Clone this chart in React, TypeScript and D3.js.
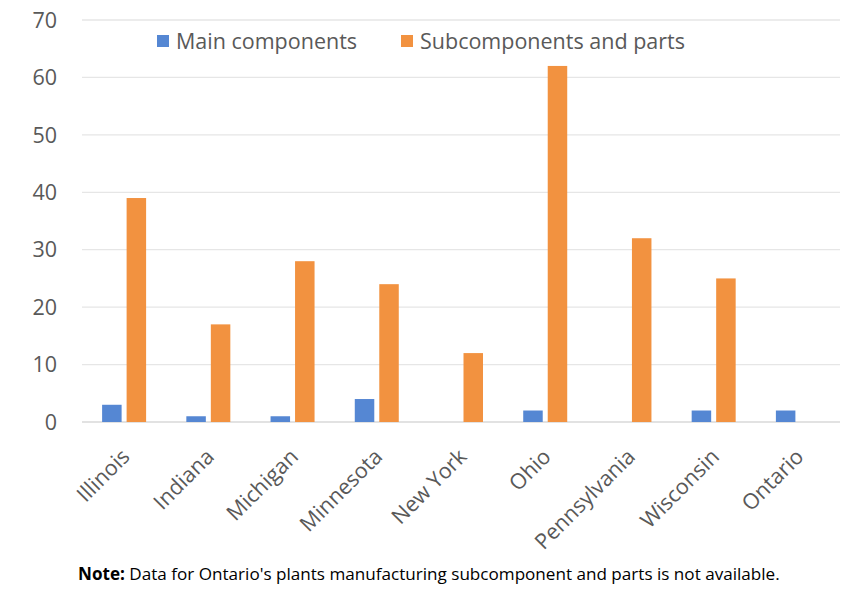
import React from "react";
import * as d3 from "d3";

const categories = ["Illinois", "Indiana", "Michigan", "Minnesota", "New York", "Ohio", "Pennsylvania", "Wisconsin", "Ontario"];
const mainComponents: (number | null)[] = [3, 1, 1, 4, 0, 2, 0, 2, 2];
const subComponents: (number | null)[] = [39, 17, 28, 24, 12, 62, 32, 25, null];
const yTicks = [0, 10, 20, 30, 40, 50, 60, 70];
const seriesNames = ["Main components", "Subcomponents and parts"];
const colors = ["#5587d3", "#f29240"];

const W = 841, H = 593;
const left = 82, right = 840, top = 20, bottom = 422;
const FONT = "'Open Sans', Lato, sans-serif";
const TXT = "#595959";

export default function App() {
  const x = d3.scaleBand<string>().domain(categories).range([left, right]).padding(0);
  const y = d3.scaleLinear().domain([0, 70]).range([bottom, top]);
  const barW = 19.5;
  const gap = 5;
  const series = [mainComponents, subComponents];

  return (
    <svg width={W} height={H} style={{ position: "absolute", left: 0, top: 0, background: "#fff" }} fontFamily={FONT}>
      {yTicks.map((t) => (
        <g key={t}>
          <line x1={left} x2={right} y1={y(t)} y2={y(t)} stroke={t === 0 ? "#d9d9d9" : "#e6e6e6"} strokeWidth={t === 0 ? 1.5 : 1.3} />
          <text x={57} y={y(t)} dy="0.36em" textAnchor="end" fontSize={21.5} fill={TXT}>{t}</text>
        </g>
      ))}
      {categories.map((c, i) => {
        const cx = (x(c) as number) + x.bandwidth() / 2;
        return (
          <g key={c}>
            {series.map((s, k) => {
              const v = s[i];
              if (v === null || v === 0) return null;
              const bx = k === 0 ? cx - gap / 2 - barW : cx + gap / 2;
              return <rect key={k} x={bx} y={y(v)} width={barW} height={y(0) - y(v)} fill={colors[k]} />;
            })}
            <text transform={`translate(${cx + 7},${458}) rotate(-45)`} textAnchor="end" fontSize={21.5} fill={TXT}>{c}</text>
          </g>
        );
      })}
      {/* legend */}
      <rect x={157} y={35} width={12} height={12} fill={colors[0]} />
      <text x={176} y={41} dy="0.36em" fontSize={21.5} fill={TXT}>{seriesNames[0]}</text>
      <rect x={401} y={35} width={12} height={12} fill={colors[1]} />
      <text x={420} y={41} dy="0.36em" fontSize={21.5} fill={TXT}>{seriesNames[1]}</text>
      {/* note */}
      <text x={78} y={580} fontSize={17.1} fill="#000">
        <tspan fontWeight="bold">Note:</tspan>
        <tspan> Data for Ontario's plants manufacturing subcomponent and parts is not available.</tspan>
      </text>
    </svg>
  );
}
